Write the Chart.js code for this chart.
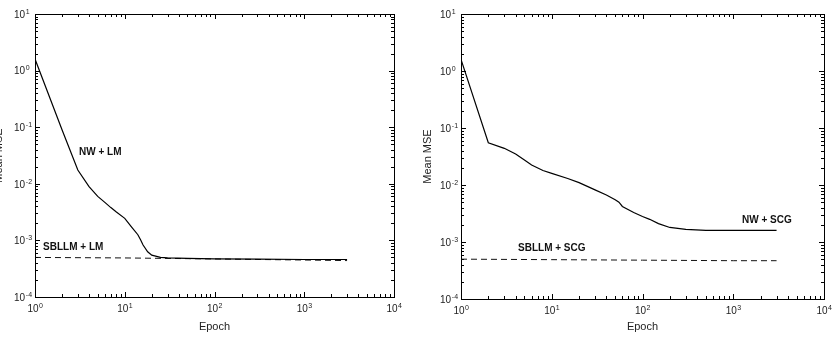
<!DOCTYPE html>
<html>
<head>
<meta charset="utf-8">
<script src="https://cdn.jsdelivr.net/npm/chart.js@4"></script>
<style>
  body { margin: 0; width: 832px; height: 342px; overflow: hidden; background: #fff; position: relative; }
  canvas { position: absolute; top: 0; }
  #lmChart { left: -10px; }
  #scgChart { left: 416px; }
</style>
</head>
<body>
<canvas id="lmChart" width="426" height="342"></canvas>
<canvas id="scgChart" width="416" height="342"></canvas>
<script>
'use strict';
// epochs and mean MSE
const lmEpochs   = [1, 2, 3, 4, 5, 6, 7, 8, 10, 12, 14, 15, 16, 18, 20, 25, 30, 50, 100, 300, 1000, 3000];
const nwLm       = [1.6, 0.09, 0.0175, 0.0089, 0.006, 0.0047, 0.0038, 0.0032, 0.00245, 0.0017, 0.00126, 0.00103, 0.00083, 0.00063, 0.00055, 0.0005, 0.00049, 0.00048, 0.00047, 0.000465, 0.00046, 0.00046];
const sbllmLmEpochs = [1, 10, 100, 1000, 3000];
const sbllmLm    = [0.0005, 0.00049, 0.00047, 0.00045, 0.00044];

const scgEpochs  = [1, 2, 3, 4, 5, 6, 8, 10, 15, 20, 30, 40, 50, 55, 60, 80, 100, 120, 150, 200, 300, 500, 1000, 3000];
const nwScg      = [1.6, 0.055, 0.044, 0.035, 0.0275, 0.0225, 0.018, 0.016, 0.013, 0.011, 0.0082, 0.0067, 0.0055, 0.005, 0.0042, 0.0033, 0.0028, 0.0025, 0.0021, 0.0018, 0.00166, 0.0016, 0.0016, 0.0016];
const sbllmScgEpochs = [1, 10, 100, 1000, 3000];
const sbllmScg   = [0.0005, 0.00049, 0.00048, 0.00047, 0.00047];

const xTicks = [1, 10, 100, 1000, 10000];
const yTicks = [1e-4, 1e-3, 1e-2, 1e-1, 1, 10];

const FAMILY = '"Liberation Sans", Arial, sans-serif';

function expOf(v) {
    return String(Math.round(Math.log10(v)));
}

function pairs(xs, ys) {
    return xs.map((x, i) => ({x: x, y: ys[i]}));
}

// MATLAB look: inward ticks on all sides, box, 10^n labels, curve notes
const matlabAxes = {
    id: 'matlabAxes',
    afterDatasetsDraw(chart, args, opts) {
        const ctx = chart.ctx;
        const a = chart.chartArea;
        const xs = chart.scales.x, ys = chart.scales.y;
        ctx.save();
        ctx.strokeStyle = '#000';
        ctx.lineWidth = 1;
        ctx.beginPath();
        xTicks.forEach((d, i) => {
            for (let k = 1; k <= 9; k++) {
                if (k > 1 && i === xTicks.length - 1) break;
                const px = Math.round(xs.getPixelForValue(d * k)) + 0.5;
                const len = k === 1 ? 5 : 3;
                ctx.moveTo(px, a.bottom); ctx.lineTo(px, a.bottom - len);
                ctx.moveTo(px, a.top); ctx.lineTo(px, a.top + len);
            }
        });
        yTicks.forEach((d, i) => {
            for (let k = 1; k <= 9; k++) {
                if (k > 1 && i === yTicks.length - 1) break;
                const py = Math.round(ys.getPixelForValue(d * k)) + 0.5;
                const len = k === 1 ? 5 : 3;
                ctx.moveTo(a.left, py); ctx.lineTo(a.left + len, py);
                ctx.moveTo(a.right, py); ctx.lineTo(a.right - len, py);
            }
        });
        ctx.stroke();
        ctx.strokeRect(Math.round(a.left) + 0.5, Math.round(a.top) + 0.5,
            Math.round(a.right - a.left), Math.round(a.bottom - a.top));

        // tick labels: base "10" and a raised smaller exponent
        const big = '10px ' + FAMILY, small = '7px ' + FAMILY;
        ctx.fillStyle = '#222';
        ctx.textBaseline = 'alphabetic';
        xTicks.forEach(v => {
            const px = xs.getPixelForValue(v);
            const e = expOf(v);
            ctx.font = big; const w1 = ctx.measureText('10').width;
            ctx.font = small; const w2 = ctx.measureText(e).width;
            const x0 = px - (w1 + w2) / 2;
            const base = a.bottom + 15;
            ctx.textAlign = 'left';
            ctx.font = big; ctx.fillText('10', x0, base);
            ctx.font = small; ctx.fillText(e, x0 + w1 + 0.5, base - 4.5);
        });
        yTicks.forEach(v => {
            const py = ys.getPixelForValue(v);
            const e = expOf(v);
            const xr = a.left - 10;
            const base = py + 3.8;
            ctx.font = big; ctx.textAlign = 'right'; ctx.fillText('10', xr, base);
            ctx.font = small; ctx.textAlign = 'left'; ctx.fillText(e, xr + 0.8, base - 4);
        });

        ctx.fillStyle = '#111';
        ctx.font = 'bold 10px ' + FAMILY;
        ctx.textBaseline = 'middle';
        ctx.textAlign = 'left';
        opts.notes.forEach(n => {
            ctx.fillText(n.text, xs.getPixelForValue(n.x), ys.getPixelForValue(n.y));
        });
        ctx.restore();
    }
};

function makeChart(id, solid, dashed, notes, areaBottom, padRight, titlePad) {
    return new Chart(document.getElementById(id), {
        type: 'line',
        data: {
            datasets: [
                {data: solid, borderColor: '#000', borderWidth: 1.2, pointRadius: 0, tension: 0},
                {data: dashed, borderColor: '#111', borderWidth: 1, borderDash: [6, 4], pointRadius: 0, tension: 0}
            ]
        },
        options: {
            responsive: false,
            animation: false,
            devicePixelRatio: 1,
            layout: {padding: {top: 14, right: padRight, bottom: 0, left: 0}},
            plugins: {
                legend: {display: false},
                tooltip: {enabled: false},
                matlabAxes: {notes: notes}
            },
            scales: {
                x: {
                    type: 'logarithmic',
                    min: 1, max: 10000,
                    afterFit: s => { s.height = 342 - areaBottom; },
                    grid: {display: false, drawTicks: false},
                    border: {display: false},
                    ticks: {display: false},
                    title: {display: true, text: 'Epoch', color: '#222', font: {family: FAMILY, size: 11}, padding: {top: 0, bottom: 8}}
                },
                y: {
                    type: 'logarithmic',
                    min: 1e-4, max: 10,
                    afterFit: s => { s.width = 45; },
                    grid: {display: false, drawTicks: false},
                    border: {display: false},
                    ticks: {display: false},
                    title: {display: true, text: 'Mean MSE', color: '#222', font: {family: FAMILY, size: 11}, padding: {top: titlePad, bottom: 0}}
                }
            }
        },
        plugins: [matlabAxes]
    });
}

makeChart('lmChart', pairs(lmEpochs, nwLm), pairs(sbllmLmEpochs, sbllmLm), [
    {text: 'NW + LM', x: 3.09, y: 0.0365},
    {text: 'SBLLM + LM', x: 1.23, y: 0.00076}
], 297, 22, 2);

makeChart('scgChart', pairs(scgEpochs, nwScg), pairs(sbllmScgEpochs, sbllmScg), [
    {text: 'NW + SCG', x: 1250, y: 0.00237},
    {text: 'SBLLM + SCG', x: 4.25, y: 0.000785}
], 299, 8, 5);
</script>
</body>
</html>
